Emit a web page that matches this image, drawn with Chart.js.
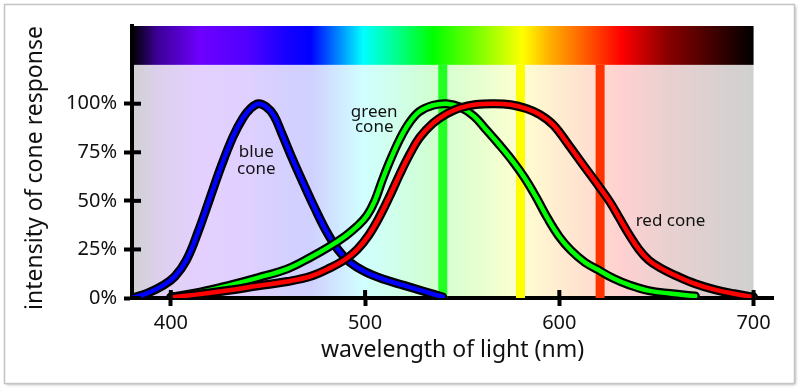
<!DOCTYPE html>
<html><head><meta charset="utf-8">
<script src="https://cdn.jsdelivr.net/npm/chart.js@4.4.1/dist/chart.umd.min.js"></script>
<style>html,body{margin:0;padding:0;background:#fff;}#wrap{width:800px;height:389px;}</style>
</head><body><div id="wrap"><canvas id="c" width="800" height="389"></canvas></div>
<script>
// ---- data ----
const xTickValues = [400, 500, 600, 700];
const yTickValues = [0, 25, 50, 75, 100];

const blueWl  = [380, 388, 396, 402, 408, 414, 420, 426, 432, 437, 441, 445, 449, 453, 457, 462, 468, 474, 480, 486, 492, 500, 510, 520, 530, 540];
const blueVal = [0, 2.5, 6.5, 11, 19.5, 34, 51, 68, 83, 92.5, 97.5, 100, 98.5, 94, 85, 73, 59.5, 46.5, 34.5, 25, 18.5, 13.5, 9.5, 6.5, 3.5, 0.5];

const greenWl  = [400, 415, 430, 445, 460, 472, 482, 490, 496, 501, 505, 509, 513, 518, 523, 528, 535, 542, 549, 556, 562, 569, 576, 582, 588, 594, 600, 606, 613, 620, 628, 636, 646, 657, 670];
const greenVal = [0.5, 3, 6.5, 10.5, 15, 21, 26.7, 32, 37, 42.5, 50, 61, 71, 82, 90.5, 96, 99.2, 100, 98.2, 93.6, 87, 79, 70.4, 62, 52, 41, 31.5, 24.5, 18.5, 14.5, 10, 6.7, 3.8, 2.3, 1];

const redWl  = [400, 415, 430, 445, 460, 472, 482, 490, 496, 502, 507, 512, 518, 523, 528, 535, 542, 549, 557, 566, 575, 583, 590, 597, 605, 613, 620, 626, 631, 636, 641, 646, 652, 660, 670, 680, 690, 700];
const redVal = [0.3, 2, 4, 6.3, 8.5, 11.2, 15.5, 20, 25, 32.5, 41, 51, 64, 74, 82.5, 90, 94.8, 97.9, 99.6, 100, 99.5, 97.5, 94.4, 89, 78.5, 67.5, 58, 49.5, 41, 32.5, 25, 19.5, 15.5, 11.5, 7.3, 4.3, 2.2, 0.5];

const markerWl = [540, 580, 621];

const spectrumWl = [380, 393, 415, 440, 460, 472, 499, 518, 535, 559, 581, 595, 609, 632, 655, 700];
const spectrumColors = ['#000000','#3c0096','#6e00ff','#5000ff','#1400ff','#0000ff','#00ffff','#00ff80','#00ff00','#80ff00','#ffff00','#ffb000','#ff7000','#ff0000','#8c0000','#000000'];

const FONT = "'Noto Sans', sans-serif";

function pts(w, v) { return w.map((x, i) => ({x: x, y: v[i]})); }

const markerColors = ['#22ff22', '#ffff00', '#ff3300'];
const datasets = [];
markerWl.forEach((w, i) => datasets.push({
  data: [{x: w, y: 0}, {x: w, y: 120}], borderColor: markerColors[i], borderWidth: 9,
  borderCapStyle: 'butt', pointRadius: 0, order: 100 + i
}));
const curves = [
  {w: blueWl, v: blueVal, c: '#0000ff', o: 60},
  {w: greenWl, v: greenVal, c: '#00ff00', o: 40},
  {w: redWl, v: redVal, c: '#ff0000', o: 20}
];
curves.forEach(cv => {
  datasets.push({data: pts(cv.w, cv.v), borderColor: '#000', borderWidth: 9, pointRadius: 0,
    tension: 0.4, borderCapStyle: 'round', borderJoinStyle: 'round', order: cv.o + 1});
  datasets.push({data: pts(cv.w, cv.v), borderColor: cv.c, borderWidth: 4.5, pointRadius: 0,
    tension: 0.4, borderCapStyle: 'round', borderJoinStyle: 'round', order: cv.o});
});

const annotations = [
  {text: 'blue', wl: 444, v: 72.5, align: 'center'},
  {text: 'cone', wl: 444, v: 63.7, align: 'center'},
  {text: 'green', wl: 504.7, v: 93.3, align: 'center'},
  {text: 'cone', wl: 504.7, v: 85.2, align: 'center'},
  {text: 'red cone', wl: 639.3, v: 37, align: 'left'}
];

const bgPlugin = {
  id: 'bg',
  beforeDraw(chart) {
    const ctx = chart.ctx, x = chart.scales.x, y = chart.scales.y;
    ctx.save();
    ctx.fillStyle = '#fff'; ctx.fillRect(0, 0, 800, 389);
    ctx.shadowColor = 'rgba(0,0,0,0.35)'; ctx.shadowBlur = 3; ctx.shadowOffsetX = 1; ctx.shadowOffsetY = 1;
    ctx.fillRect(4.5, 4.5, 790, 379);
    ctx.shadowColor = 'transparent';
    ctx.strokeStyle = '#c4c4c4'; ctx.lineWidth = 1.5; ctx.strokeRect(4.5, 4.5, 790, 379);
    const x0 = x.getPixelForValue(spectrumWl[0]);
    const x1 = x.getPixelForValue(spectrumWl[spectrumWl.length - 1]);
    const g = ctx.createLinearGradient(x0, 0, x1, 0);
    spectrumWl.forEach((w, i) => g.addColorStop((w - spectrumWl[0]) / (spectrumWl[spectrumWl.length - 1] - spectrumWl[0]), spectrumColors[i]));
    const yTop = y.getPixelForValue(140), yMid = y.getPixelForValue(120), yBot = y.getPixelForValue(0);
    ctx.fillStyle = '#fff'; ctx.fillRect(x0, yMid, x1 - x0, yBot - yMid);
    ctx.globalAlpha = 0.184; ctx.fillStyle = g; ctx.fillRect(x0, yMid, x1 - x0, yBot - yMid);
    ctx.globalAlpha = 1; ctx.fillRect(x0 - 1, yTop, x1 - x0 + 1, yMid - yTop);
    ctx.restore();
  },
  afterDatasetsDraw(chart) {
    const ctx = chart.ctx, x = chart.scales.x, y = chart.scales.y;
    ctx.save();
    ctx.strokeStyle = '#000'; ctx.lineWidth = 4;
    const yb = y.getPixelForValue(0), xl = x.getPixelForValue(380);
    x.ticks.forEach(t => { const px = x.getPixelForValue(t.value); ctx.beginPath(); ctx.moveTo(px, yb); ctx.lineTo(px, yb - 8); ctx.stroke(); });
    y.ticks.forEach(t => { const py = y.getPixelForValue(t.value); ctx.beginPath(); ctx.moveTo(xl, py); ctx.lineTo(xl + 9, py); ctx.stroke(); });
    ctx.fillStyle = '#111'; ctx.font = '17px ' + FONT; ctx.textBaseline = 'alphabetic';
    annotations.forEach(a => { ctx.textAlign = a.align; ctx.fillText(a.text, x.getPixelForValue(a.wl), y.getPixelForValue(a.v)); });
    ctx.restore();
  }
};

new Chart(document.getElementById('c'), {
  type: 'line',
  data: {datasets: datasets},
  options: {
    responsive: false, animation: false, devicePixelRatio: 1,
    layout: {padding: {left: 0, top: 26, right: 27, bottom: 0}},
    plugins: {legend: {display: false}, tooltip: {enabled: false}},
    elements: {point: {radius: 0}},
    scales: {
      x: {
        type: 'linear', min: 380, max: 710,
        afterBuildTicks: s => { s.ticks = xTickValues.map(v => ({value: v})); },
        afterFit: s => { s.height = 91; },
        grid: {display: true, drawOnChartArea: false, drawTicks: true, tickLength: 8, tickWidth: 4, tickColor: '#000'},
        border: {display: true, color: '#000', width: 4},
        ticks: {color: '#111', font: {family: FONT, size: 20}, padding: 5, maxRotation: 0},
        title: {display: true, text: 'wavelength of light (nm)', color: '#111', font: {family: FONT, size: 23}, padding: {top: 0, bottom: 25}}
      },
      y: {
        type: 'linear', min: 0, max: 140,
        afterBuildTicks: s => { s.ticks = yTickValues.map(v => ({value: v})); },
        afterFit: s => { s.width = 132; },
        grid: {display: true, drawOnChartArea: false, drawTicks: true, tickLength: 8, tickWidth: 4, tickColor: '#000'},
        border: {display: true, color: '#000', width: 4},
        ticks: {color: '#111', font: {family: FONT, size: 20}, padding: 7, callback: v => v + '%'},
        title: {display: true, text: 'intensity of cone response  ', color: '#111', font: {family: FONT, size: 23}, padding: {top: 22, bottom: 0}}
      }
    }
  },
  plugins: [bgPlugin]
});
</script></body></html>
